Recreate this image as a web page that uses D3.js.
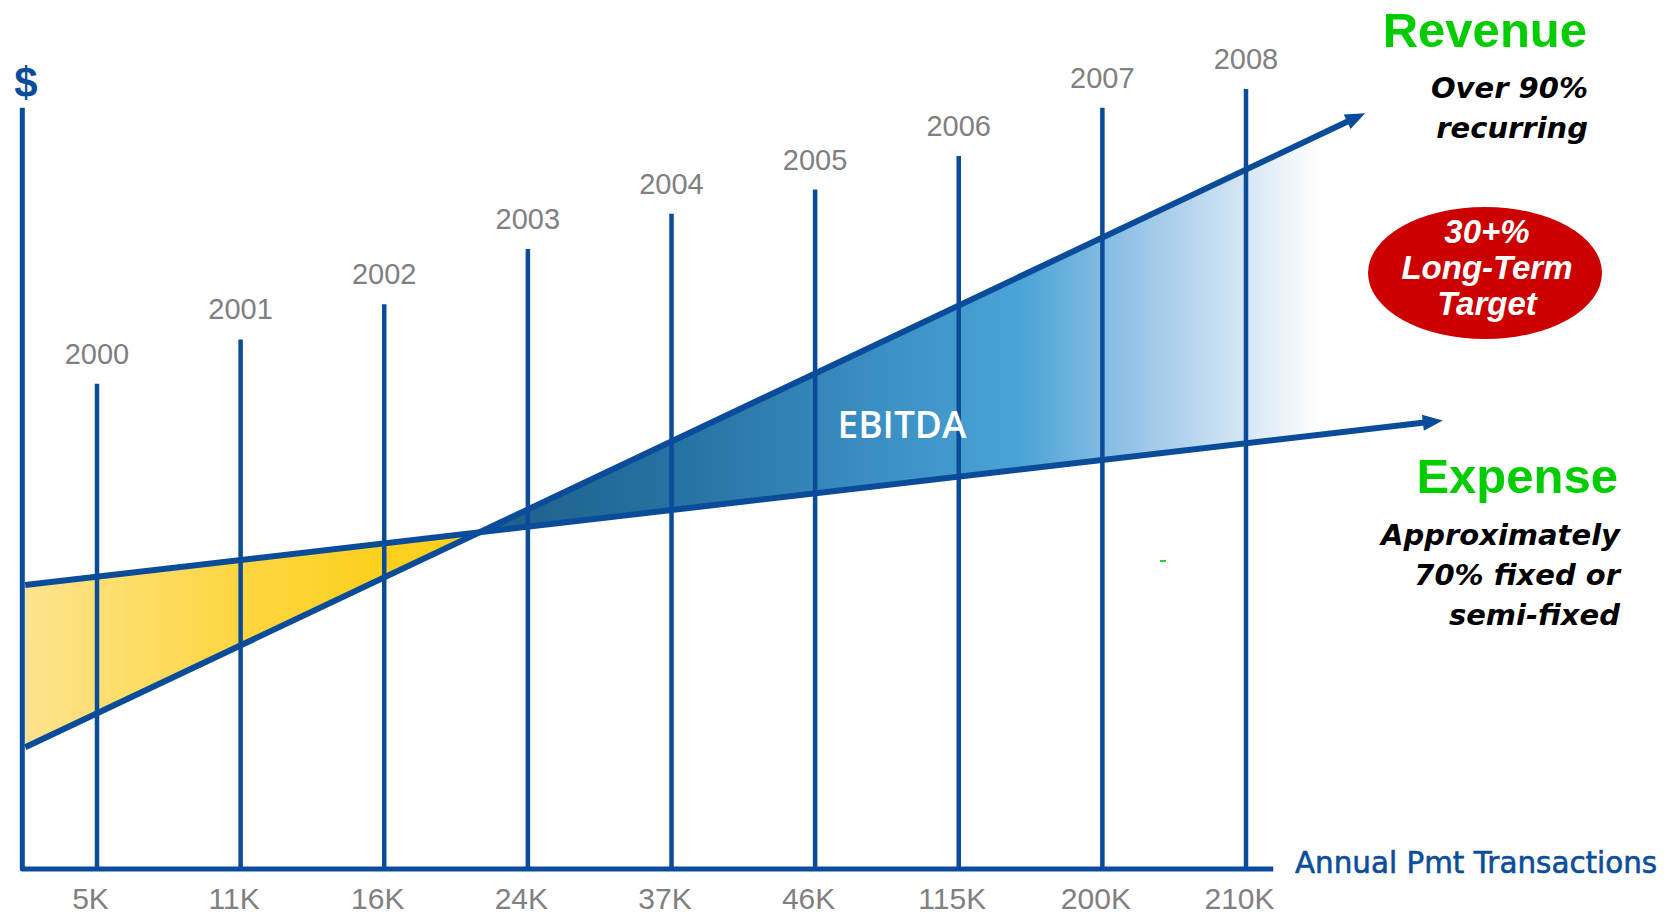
<!DOCTYPE html>
<html>
<head>
<meta charset="utf-8">
<script src="https://cdn.jsdelivr.net/npm/d3@7"></script>
<style>
  html, body { margin: 0; padding: 0; background: #ffffff; }
  svg { display: block; }
</style>
</head>
<body>
<svg id="chart" width="1669" height="914"></svg>
<script>
// ---------- data ----------
const years = [2000, 2001, 2002, 2003, 2004, 2005, 2006, 2007, 2008];
const yearLineTops = [62.2, 67.9, 72.4, 79.5, 84.0, 87.1, 91.4, 97.6, 100];
const volumeLabels = ["5K", "11K", "16K", "24K", "37K", "46K", "115K", "200K", "210K"];
const revenueT = [1999.5, 2008.83];
const revenueV = [15.6, 96.9];
const expenseT = [1999.5, 2009.37];
const expenseV = [36.4, 57.5];
const axisYears = [1999.48, 2008.19];
const axisValueTop = 97.6;

const revenueNotes = ["Over 90%", "recurring"];
const expenseNotes = ["Approximately", "70% fixed or", "semi-fixed"];
const targetNotes = ["30+%", "Long-Term", "Target"];

// ---------- setup ----------
const svg = d3.select("#chart");
const x = d3.scaleLinear().domain([2000, 2008]).range([97, 1246]);
const y = d3.scaleLinear().domain([0, 100]).range([869, 89]);
const blue = "#0a4c9a";

const lin = (T, V) => t => V[0] + (V[1] - V[0]) * (t - T[0]) / (T[1] - T[0]);
const rev = lin(revenueT, revenueV);
const exp = lin(expenseT, expenseV);
// intersection (break-even)
const sR = (revenueV[1] - revenueV[0]) / (revenueT[1] - revenueT[0]);
const sE = (expenseV[1] - expenseV[0]) / (expenseT[1] - expenseT[0]);
const tCross = revenueT[0] + (exp(revenueT[0]) - rev(revenueT[0])) / (sR - sE);

const defs = svg.append("defs");
const gy = defs.append("linearGradient").attr("id", "gYellow")
  .attr("gradientUnits", "userSpaceOnUse")
  .attr("x1", x(revenueT[0])).attr("x2", x(2002)).attr("y1", 0).attr("y2", 0);
[[0, "#fde38f"], [0.55, "#fdd746"], [1, "#fcd01c"]].forEach(s =>
  gy.append("stop").attr("offset", s[0]).attr("stop-color", s[1]));

const bx1 = x(tCross), bx2 = x(revenueT[1]);
const gb = defs.append("linearGradient").attr("id", "gBlue")
  .attr("gradientUnits", "userSpaceOnUse")
  .attr("x1", bx1).attr("x2", bx2).attr("y1", 0).attr("y2", 0);
[[0, "#1c5f8a"], [0.224, "#2672a2"], [0.473, "#3d92c6"], [0.61, "#4aa3d6"],
 [0.75, "#9cc7e8"], [0.87, "#d8e8f5"], [0.95, "#ffffff"], [1, "#ffffff"]].forEach(s =>
  gb.append("stop").attr("offset", s[0]).attr("stop-color", s[1]));

// ---------- fills ----------
const t0 = revenueT[0];
svg.append("path")
  .attr("d", d3.line()([[x(t0), y(exp(t0))], [x(tCross), y(rev(tCross))], [x(t0), y(rev(t0))]]) + "Z")
  .attr("fill", "url(#gYellow)");

const tEnd = revenueT[1];
svg.append("path")
  .attr("d", d3.line()([[x(tCross), y(rev(tCross))], [x(tEnd), y(rev(tEnd))], [x(tEnd), y(exp(tEnd))]]) + "Z")
  .attr("fill", "url(#gBlue)");

// ---------- year lines ----------
svg.selectAll(".yl").data(years).enter().append("line")
  .attr("x1", d => x(d)).attr("x2", d => x(d))
  .attr("y1", y(0)).attr("y2", (d, i) => y(yearLineTops[i]))
  .attr("stroke", blue).attr("stroke-width", 4.5);

svg.selectAll(".ylab").data(years).enter().append("text")
  .attr("x", d => x(d)).attr("y", (d, i) => y(yearLineTops[i]) - 20)
  .attr("text-anchor", "middle")
  .attr("font-family", "'Liberation Sans', Arial, sans-serif")
  .attr("font-size", 29).attr("fill", "#808080")
  .text(d => d);

// ---------- revenue / expense arrows ----------
function arrowLine(T, f) {
  const p0 = [x(T[0]), y(f(T[0]))], p1 = [x(T[1]), y(f(T[1]))];
  const dx = p1[0] - p0[0], dy = p1[1] - p0[1], L = Math.hypot(dx, dy);
  const u = [dx / L, dy / L], n = [-u[1], u[0]];
  const head = 20, half = 8;
  const pe = [p1[0] - u[0] * (head - 4), p1[1] - u[1] * (head - 4)];
  svg.append("path").attr("d", d3.line()([p0, pe]))
    .attr("stroke", blue).attr("stroke-width", 6).attr("fill", "none");
  const b = [p1[0] - u[0] * head, p1[1] - u[1] * head];
  svg.append("path")
    .attr("d", d3.line()([p1, [b[0] + n[0] * half, b[1] + n[1] * half], [b[0] - n[0] * half, b[1] - n[1] * half]]) + "Z")
    .attr("fill", blue);
}
arrowLine(revenueT, rev);
arrowLine(expenseT, exp);

// ---------- axes ----------
svg.append("path")
  .attr("d", d3.line()([[x(axisYears[0]), y(axisValueTop)], [x(axisYears[0]), y(0)], [x(axisYears[1]), y(0)]]))
  .attr("stroke", blue).attr("stroke-width", 5).attr("fill", "none")
  .attr("stroke-linejoin", "round");

const xAxis = svg.append("g").attr("transform", `translate(0,${y(0)})`)
  .call(d3.axisBottom(x).tickValues(years).tickSize(0).tickPadding(19)
    .tickFormat((d, i) => volumeLabels[i]));
xAxis.select(".domain").remove();
xAxis.selectAll("text")
  .attr("font-family", "'Liberation Sans', Arial, sans-serif")
  .attr("font-size", 30).attr("fill", "#808080")
  .attr("transform", "translate(-7,0)");

svg.append("text").attr("x", 26).attr("y", 97)
  .attr("text-anchor", "middle")
  .attr("font-family", "'Liberation Sans', Arial, sans-serif")
  .attr("font-weight", "bold").attr("font-size", 42).attr("fill", blue)
  .text("$");

svg.append("text").attr("x", 1295).attr("y", 873)
  .attr("font-family", "'DejaVu Sans', sans-serif")
  .attr("font-size", 29.4).attr("fill", "#0b4d9b")
  .attr("stroke", "#0b4d9b").attr("stroke-width", 0.6)
  .text("Annual Pmt Transactions");

// ---------- EBITDA ----------
svg.append("text").attr("x", 902).attr("y", 438)
  .attr("text-anchor", "middle")
  .attr("font-family", "'Open Sans', 'Liberation Sans', sans-serif")
  .attr("font-weight", 600).attr("font-size", 37).attr("fill", "#ffffff")
  .text("EBITDA");

// ---------- annotations ----------
svg.append("text").attr("x", 1587).attr("y", 47)
  .attr("text-anchor", "end")
  .attr("font-family", "'Liberation Sans', Arial, sans-serif")
  .attr("font-weight", "bold").attr("font-size", 49).attr("fill", "#00cc00")
  .text("Revenue");

svg.selectAll(".rn").data(revenueNotes).enter().append("text")
  .attr("x", 1588).attr("y", (d, i) => 98 + i * 40)
  .attr("text-anchor", "end")
  .attr("font-family", "'DejaVu Sans', sans-serif")
  .attr("font-weight", "bold").attr("font-style", "italic")
  .attr("font-size", 29).attr("fill", "#000000")
  .text(d => d);

svg.append("ellipse").attr("cx", 1485).attr("cy", 273).attr("rx", 117).attr("ry", 66)
  .attr("fill", "#cc0000");
svg.selectAll(".tn").data(targetNotes).enter().append("text")
  .attr("x", 1487).attr("y", (d, i) => 243 + i * 36)
  .attr("text-anchor", "middle")
  .attr("font-family", "'Liberation Sans', Arial, sans-serif")
  .attr("font-weight", "bold").attr("font-style", "italic")
  .attr("font-size", 33).attr("fill", "#ffffff")
  .text(d => d);

svg.append("text").attr("x", 1618).attr("y", 493)
  .attr("text-anchor", "end")
  .attr("font-family", "'Liberation Sans', Arial, sans-serif")
  .attr("font-weight", "bold").attr("font-size", 49).attr("fill", "#00cc00")
  .text("Expense");

svg.selectAll(".en").data(expenseNotes).enter().append("text")
  .attr("x", 1620).attr("y", (d, i) => 545 + i * 40)
  .attr("text-anchor", "end")
  .attr("font-family", "'DejaVu Sans', sans-serif")
  .attr("font-weight", "bold").attr("font-style", "italic")
  .attr("font-size", 29).attr("fill", "#000000")
  .text(d => d);

// small green mark
svg.append("line").attr("x1", 1160).attr("x2", 1166).attr("y1", 561).attr("y2", 561)
  .attr("stroke", "#33cc33").attr("stroke-width", 2);
</script>
</body>
</html>
